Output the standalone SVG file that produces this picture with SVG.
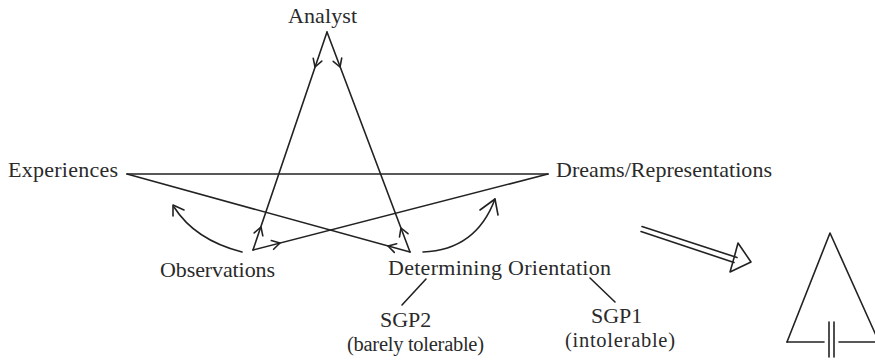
<svg xmlns="http://www.w3.org/2000/svg" width="875" height="362" viewBox="0 0 875 362">
<style>
text{font-family:"Liberation Serif","Times New Roman",serif;font-size:22px;fill:#2a2a2a}
.sm{font-size:20.5px}
.ln{stroke:#222;stroke-width:1.6;fill:none;stroke-linecap:round;stroke-linejoin:round}
</style>
<rect width="875" height="362" fill="#fff"/>
<g id="connectors">
<line class="ln" x1="327" y1="32" x2="253" y2="250"/>
<line class="ln" x1="327" y1="32" x2="410" y2="252"/>
<line class="ln" x1="127" y1="174" x2="548" y2="174"/>
<line class="ln" x1="253" y1="250" x2="548" y2="174"/>
<line class="ln" x1="410" y1="252" x2="127" y2="174"/>
<polyline class="ln" points="321.8,61.1 315,67 313.2,58.2"/>
<polyline class="ln" points="341.7,58.1 340,67 333.2,61.3"/>
<polyline class="ln" points="254.2,232.9 261,227 262.8,235.8"/>
<polyline class="ln" points="399.5,236.9 401,228 408,233.7"/>
<polyline class="ln" points="271.3,240.6 280,243 273.6,249.3"/>
<polyline class="ln" points="394.3,252.4 388,246 396.7,243.7"/>
<path class="ln" d="M242 252 Q195 240 174 207"/>
<polyline class="ln" points="173,216 173,205 184,210"/>
<path class="ln" d="M423 252 Q476 250 495 199"/>
<polyline class="ln" points="480,210 495,199 498,215"/>
<line class="ln" x1="426" y1="279" x2="402" y2="305"/>
<line class="ln" x1="590" y1="278" x2="615" y2="302"/>
<line class="ln" x1="642" y1="226.5" x2="737" y2="257.5"/>
<line class="ln" x1="641" y1="231.5" x2="734" y2="262.5"/>
<path class="ln" d="M738 243 L751 262 L730 272 Q733 262 738 243 Z"/>
</g>
<g id="triangle">
<path class="ln" d="M787 342 L830 233 L879 342"/>
<line class="ln" x1="787" y1="342" x2="824" y2="342"/>
<line class="ln" x1="839" y1="342" x2="875" y2="342"/>
<line class="ln" x1="829" y1="322" x2="829" y2="357"/>
<line class="ln" x1="834" y1="322" x2="834" y2="357"/>
</g>
<g id="analyst"><text x="288" y="23" textLength="69">Analyst</text></g>
<g id="experiences"><text x="8" y="177" textLength="110">Experiences</text></g>
<g id="dreams"><text x="556" y="177" textLength="216">Dreams/Representations</text></g>
<g id="observations"><text x="160" y="277" textLength="115">Observations</text></g>
<g id="determining"><text x="388" y="275" textLength="223">Determining Orientation</text></g>
<g id="sgp2"><text x="380" y="327">SGP2</text><text class="sm" x="347" y="351" textLength="137">(barely tolerable)</text></g>
<g id="sgp1"><text x="591" y="323">SGP1</text><text class="sm" x="565" y="347" textLength="110">(intolerable)</text></g>
</svg>
